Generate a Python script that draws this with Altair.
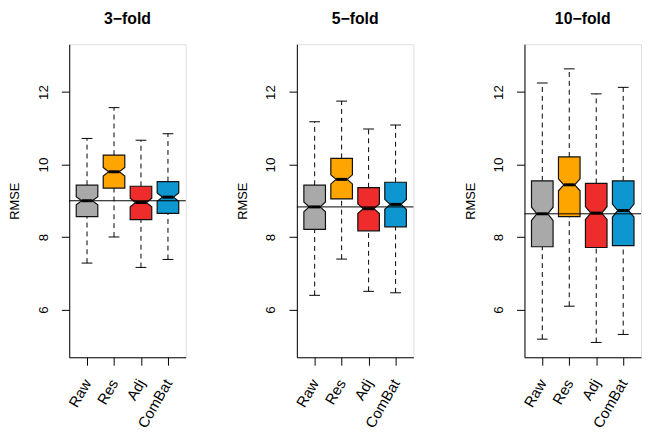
import altair as alt
import pandas as pd
import math

# ---- data ----
FOLDS = ["3\u2212fold", "5\u2212fold", "10\u2212fold"]
METHODS = ["Raw", "Res", "Adj", "ComBat"]
COLORS = ["#A9A9A9", "#FFA500", "#EE2C2C", "#0E96D0"]
N_RUNS = [150, 200, 250]  # observations per box (sets notch size)

LOWER = [
    [7.28, 8.00, 7.16, 7.38],
    [6.39, 7.39, 6.50, 6.46],
    [5.18, 6.09, 5.09, 5.31],
]
Q1 = [
    [8.56, 9.35, 8.48, 8.65],
    [8.21, 9.05, 8.17, 8.28],
    [7.73, 8.56, 7.71, 7.76],
]
MEDIAN = [
    [9.00, 9.80, 8.95, 9.10],
    [8.83, 9.59, 8.78, 8.90],
    [8.64, 9.44, 8.66, 8.73],
]
Q3 = [
    [9.43, 10.26, 9.40, 9.53],
    [9.43, 10.17, 9.36, 9.51],
    [9.55, 10.21, 9.48, 9.55],
]
UPPER = [
    [10.72, 11.57, 10.67, 10.85],
    [11.18, 11.75, 10.98, 11.09],
    [12.25, 12.64, 11.95, 12.13],
]
Y_TICKS = [6, 8, 10, 12]

FONT = "Liberation Sans"
HALF = 0.4      # half box width (boxwex 0.8)
STAPLE = 0.2    # half staple width
W, H = 118, 317

xscale = alt.Scale(domain=[0.34, 4.66], nice=False, zero=False)
yscale = alt.Scale(domain=[4.68, 13.32], nice=False, zero=False)
label_expr = "[" + ",".join("'%s'" % m for m in METHODS) + "][datum.value - 1]"

XAX = alt.Axis(values=[1, 2, 3, 4], labelExpr=label_expr, title=None, grid=False,
               labelAngle=-60, labelAlign="right", labelBaseline="middle",
               labelPadding=15, tickSize=8, labelFontSize=15, labelFont=FONT,
               domainColor="black", tickColor="black", labelColor="black",
               labelOverlap=False, labelBound=False, labelFlush=False)
YAX = alt.Axis(values=Y_TICKS, title="RMSE", grid=False, labelAngle=-90,
               labelAlign="center", labelBaseline="alphabetic", labelPadding=14.5,
               tickSize=8, labelFontSize=13.5, labelFont=FONT,
               titleFontSize=13, titleFont=FONT, titleFontWeight="normal",
               titleAngle=-90, titleX=-55, titleY=H / 2, titleAlign="center",
               titleBaseline="middle", titleColor="black",
               domainColor="black", tickColor="black", labelColor="black",
               labelOverlap=False, labelFlush=False)


def panel(i):
    rows, poly = [], []
    for j, m in enumerate(METHODS):
        p = j + 1
        q1, md, q3 = Q1[i][j], MEDIAN[i][j], Q3[i][j]
        notch = 1.58 * (q3 - q1) / math.sqrt(N_RUNS[i])
        rows.append(dict(method=m, p=p, pl=p - STAPLE, pr=p + STAPLE,
                         ml=p - HALF / 2, mr=p + HALF / 2,
                         low=LOWER[i][j], q1=q1, med=md, q3=q3, high=UPPER[i][j]))
        xs = [p - HALF, p - HALF / 2, p + HALF / 2, p + HALF]
        # lower half: from Q1 up to the notch; upper half: from the notch up to Q3
        lower_top = [md - notch, md, md, md - notch]
        upper_bot = [md + notch, md, md, md + notch]
        for xv, t in zip(xs, lower_top):
            poly.append(dict(method=m, grp=m + "_lo", x=xv, ya=q1, yb=t))
        for xv, b in zip(xs, upper_bot):
            poly.append(dict(method=m, grp=m + "_hi", x=xv, ya=b, yb=q3))
    df = pd.DataFrame(rows)
    dpoly = pd.DataFrame(poly)
    dref = pd.DataFrame({"ref": [MEDIAN[i][0]]})

    base = alt.Chart(df)
    color = alt.Color("method:N", scale=alt.Scale(domain=METHODS, range=COLORS), legend=None)

    whisk_hi = base.mark_rule(color="black", strokeWidth=1, strokeDash=[5, 4]).encode(
        x=alt.X("p:Q", scale=xscale, axis=XAX),
        y=alt.Y("q3:Q", scale=yscale, axis=YAX), y2="high:Q")
    whisk_lo = base.mark_rule(color="black", strokeWidth=1, strokeDash=[5, 4]).encode(
        x=alt.X("p:Q", scale=xscale, axis=XAX),
        y=alt.Y("low:Q", scale=yscale, axis=YAX), y2="q1:Q")
    staple_hi = base.mark_rule(color="black", strokeWidth=1).encode(
        x=alt.X("pl:Q", scale=xscale, axis=XAX), x2="pr:Q",
        y=alt.Y("high:Q", scale=yscale, axis=YAX))
    staple_lo = base.mark_rule(color="black", strokeWidth=1).encode(
        x=alt.X("pl:Q", scale=xscale, axis=XAX), x2="pr:Q",
        y=alt.Y("low:Q", scale=yscale, axis=YAX))
    box = alt.Chart(dpoly).mark_area(orient="vertical", stroke="#111111", strokeWidth=1.2,
                                     opacity=1, strokeJoin="miter").encode(
        x=alt.X("x:Q", scale=xscale, axis=XAX),
        y=alt.Y("ya:Q", scale=yscale, axis=YAX, stack=None), y2="yb:Q",
        color=color, detail="grp:N")
    med = base.mark_rule(color="black", strokeWidth=3).encode(
        x=alt.X("ml:Q", scale=xscale, axis=XAX), x2="mr:Q",
        y=alt.Y("med:Q", scale=yscale, axis=YAX))
    ref = alt.Chart(dref).mark_rule(color="black", strokeWidth=1).encode(
        y=alt.Y("ref:Q", scale=yscale, axis=YAX))

    return alt.layer(whisk_hi, whisk_lo, staple_hi, staple_lo, box, med, ref).properties(
        width=W, height=H,
        title=alt.TitleParams(FOLDS[i], fontSize=16, fontWeight="bold", font=FONT,
                              anchor="middle", color="black", offset=4,
                              baseline="alphabetic"))


chart = alt.hconcat(panel(0), panel(1), panel(2), spacing=112.5, bounds="flush").properties(
    padding={"left": 0, "top": 0, "right": 0, "bottom": 0}
).configure_view(stroke=None).configure(font=FONT)

chart.save("out.html", embed_options={"renderer": "svg", "actions": False})
